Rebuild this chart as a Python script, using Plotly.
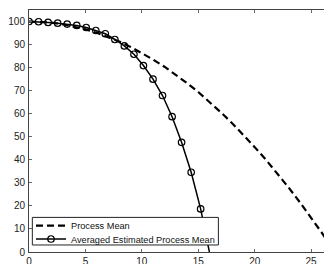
import plotly.graph_objects as go

# Process Mean (dashed curve)
pm_x = [0, 1, 2, 3, 4, 5, 6, 7, 8, 9, 10, 11, 12, 13, 14, 15, 16, 17, 18, 19, 20,
        21, 22, 23, 24, 25, 26, 27]
pm_y = [100, 99.9, 99.5, 98.8, 97.8, 96.6, 95.1, 93.3, 91.3, 89.0, 86.4, 83.5, 80.4,
        77.0, 73.3, 69.4, 65.1, 60.6, 55.9, 50.8, 45.5, 40.0, 34.1, 28.0, 21.6, 14.9,
        8.0, 0.7]

# Averaged Estimated Process Mean (solid line with circle markers)
ae_x = [0, 0.85, 1.69, 2.54, 3.38, 4.23, 5.07, 5.92, 6.76, 7.61, 8.45, 9.30, 10.14,
        10.99, 11.83, 12.68, 13.52, 14.37, 15.21, 16.06]
ae_y = [100, 99.9, 99.6, 99.3, 98.9, 98.3, 97.4, 96.1, 94.7, 92.2, 89.4, 85.8, 80.9,
        75.0, 67.9, 58.7, 47.6, 34.6, 18.7, -1.8]

x_ticks = [0, 5, 10, 15, 20, 25]
y_ticks = [0, 10, 20, 30, 40, 50, 60, 70, 80, 90, 100]

fig = go.Figure()
fig.add_trace(go.Scatter(
    x=pm_x, y=pm_y, mode="lines", name="Process Mean", legend="legend",
    line=dict(color="black", width=2.2, dash="7px,4px"),
))
fig.add_trace(go.Scatter(
    x=ae_x, y=ae_y, mode="lines+markers", name="Averaged Estimated Process Mean",
    legend="legend2",
    line=dict(color="black", width=1.5),
    marker=dict(symbol="circle-open", size=6.5, color="black", line=dict(width=1.2)),
))

axis_common = dict(
    showgrid=False, zeroline=False, showline=True, linecolor="#444", linewidth=1,
    mirror="allticks", ticks="inside", ticklen=3, tickcolor="#666",
    automargin=False,
    tickfont=dict(family="Liberation Sans, Arial, sans-serif", size=10, color="#222"),
)

legend_common = dict(
    xanchor="left", yanchor="middle", x=0.0066,
    bgcolor="rgba(0,0,0,0)", borderwidth=0,
    font=dict(family="Liberation Sans, Arial, sans-serif", size=9.2, color="#111"),
    itemwidth=30,
)

# page body adds an 8px offset, so the figure is 8px smaller than the window
fig.update_layout(
    width=324, height=256,
    margin=dict(l=21, r=0, t=2, b=12, autoexpand=False),
    paper_bgcolor="white", plot_bgcolor="white",
    xaxis=dict(range=[0, 26.85], tickvals=x_ticks, ticklabelstandoff=0, **axis_common),
    yaxis=dict(range=[0, 105], tickvals=y_ticks, ticklabelstandoff=1, **axis_common),
    showlegend=True,
    legend=dict(y=0.1087, **legend_common),
    legend2=dict(y=0.0537, **legend_common),
    shapes=[dict(
        type="rect", xref="paper", yref="paper",
        x0=0.011, x1=0.625, y0=0.029, y1=0.143,
        fillcolor="white", line=dict(color="#222", width=1), layer="above",
    )],
)

fig.write_html("out.html")
